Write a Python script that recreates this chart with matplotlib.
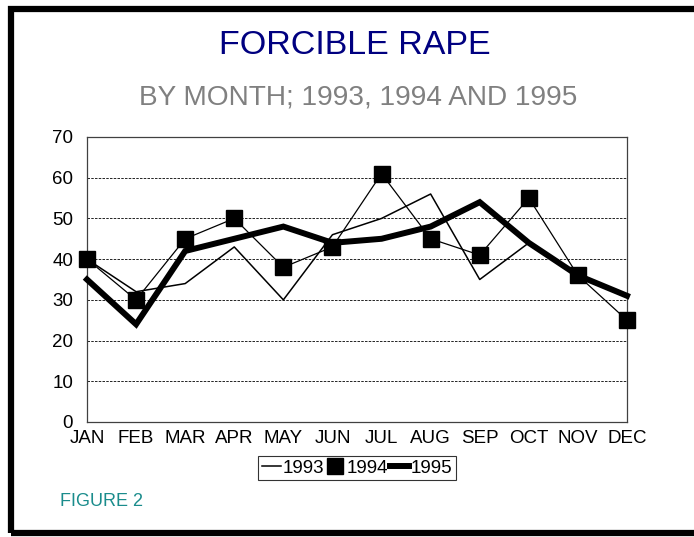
import matplotlib
matplotlib.use("Agg")
import matplotlib.pyplot as plt
from matplotlib.lines import Line2D
from matplotlib.patches import Rectangle

plt.rcParams['font.family'] = ['Liberation Sans', 'DejaVu Sans']

months = ['JAN', 'FEB', 'MAR', 'APR', 'MAY', 'JUN', 'JUL', 'AUG', 'SEP', 'OCT', 'NOV', 'DEC']
rape_1993 = [40, 32, 34, 43, 30, 46, 50, 56, 35, 44, 36, 31]
rape_1994 = [40, 30, 45, 50, 38, 43, 61, 45, 41, 55, 36, 25]
rape_1995 = [35, 24, 42, 45, 48, 44, 45, 48, 54, 44, 36, 31]
yticks = [0, 10, 20, 30, 40, 50, 60, 70]

fig = plt.figure(figsize=(6.94, 5.37), dpi=100)
ax = fig.add_axes([87 / 694, 115 / 537, 540 / 694, 285 / 537])

x = list(range(len(months)))
ax.plot(x, rape_1993, color='black', lw=1.1, clip_on=False, zorder=3)
ax.plot(x, rape_1994, color='black', lw=0.9, marker='s', markersize=12,
        clip_on=False, zorder=4)
ax.plot(x, rape_1995, color='black', lw=4.3, solid_joinstyle='miter',
        clip_on=False, zorder=5)

ax.set_xlim(0, 11)
ax.set_ylim(0, 70)
ax.set_xticks(x)
ax.set_xticklabels(months)
ax.set_yticks(yticks)
ax.tick_params(axis='both', length=0, labelsize=13.5)
ax.tick_params(axis='x', pad=6)
ax.tick_params(axis='y', pad=10)
ax.yaxis.grid(True, color='black', linestyle=(0, (3, 1.5)), lw=0.6)
ax.set_axisbelow(True)
for s in ax.spines.values():
    s.set_color('#404040')
    s.set_linewidth(0.9)

handles = [
    Line2D([], [], color='black', lw=1.1),
    Line2D([], [], color='black', linestyle='none', marker='s', markersize=12),
    Line2D([], [], color='black', lw=4.3),
]
leg = fig.legend(handles, ['1993', '1994', '1995'], loc='center',
                 bbox_to_anchor=(357 / 694, 1 - 468 / 537), ncol=3,
                 fontsize=13.5, frameon=True, fancybox=False, handlelength=1.0,
                 handletextpad=0.1, columnspacing=0.1, borderpad=0.2,
                 borderaxespad=0)
leg.get_frame().set_edgecolor('black')
leg.get_frame().set_linewidth(0.8)

fig.text(355 / 694, 1 - 46 / 537, 'FORCIBLE RAPE', color='#000080',
         fontsize=24.5, ha='center', va='center')
fig.text(358 / 694, 1 - 97 / 537, 'BY MONTH; 1993, 1994 AND 1995', color='#808080',
         fontsize=20.2, ha='center', va='center')
fig.text(60 / 694, 1 - 501 / 537, 'FIGURE 2', color='#1a8c8c',
         fontsize=13, ha='left', va='center')

# black frame round the page
fig.patches.append(Rectangle((11 / 694, 1 - 533 / 537), 685 / 694, 524 / 537,
                             transform=fig.transFigure, fill=False,
                             edgecolor='black', lw=4.5))

plt.savefig('out.png', dpi=100)
